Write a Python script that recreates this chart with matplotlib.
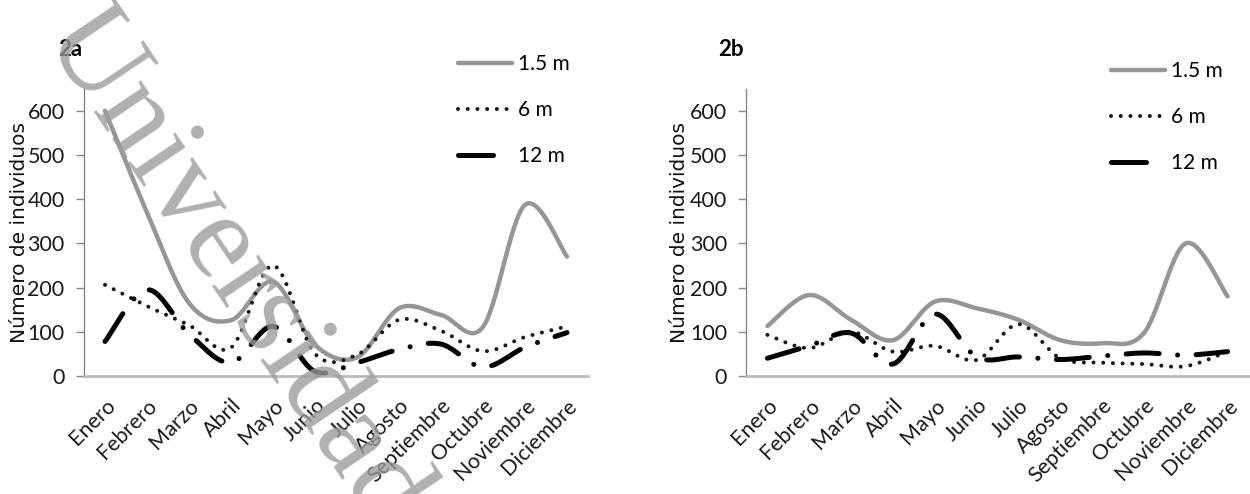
import numpy as np
import matplotlib
matplotlib.use("Agg")
import matplotlib.pyplot as plt
from matplotlib.lines import Line2D
from matplotlib import font_manager
import matplotlib.transforms as mtransforms

months = ["Enero", "Febrero", "Marzo", "Abril", "Mayo", "Junio", "Julio",
          "Agosto", "Septiembre", "Octubre", "Noviembre", "Diciembre"]

# Panel 2a
a_15 = [600, 370, 165, 126, 213, 70, 42, 153, 138, 111, 387, 270]
a_6 = [206, 158, 115, 64, 250, 50, 48, 127, 102, 56, 88, 112]
a_12 = [78, 195, 95, 30, 112, 10, 30, 60, 72, 20, 65, 98]

# Panel 2b
b_15 = [113, 183, 127, 81, 168, 153, 127, 81, 74, 97, 300, 180]
b_6 = [93, 63, 100, 55, 68, 36, 117, 40, 30, 27, 22, 55]
b_12 = [40, 68, 97, 27, 140, 43, 43, 37, 45, 52, 47, 55]

series_labels = ["1.5 m", "6 m", "12 m"]
yticks = [0, 100, 200, 300, 400, 500, 600]

_names = {f.name for f in font_manager.fontManager.ttflist}
NARROW = "Liberation Sans Narrow" if "Liberation Sans Narrow" in _names else "Lato"
SERIF = "Liberation Serif" if "Liberation Serif" in _names else "DejaVu Serif"
FS = 15.5
LFS = 15


def smooth(xs, ys, n=30):
    P = np.column_stack([np.asarray(xs, float), np.asarray(ys, float)])
    out = []
    for i in range(len(P) - 1):
        p0 = P[i - 1] if i > 0 else P[i]
        p1 = P[i]
        p2 = P[i + 1]
        p3 = P[i + 2] if i + 2 < len(P) else P[i + 1]
        c1 = p1 + (p2 - p0) / 6.0
        c2 = p2 - (p3 - p1) / 6.0
        t = np.linspace(0, 1, n, endpoint=(i == len(P) - 2))[:, None]
        seg = ((1 - t) ** 3) * p1 + 3 * ((1 - t) ** 2) * t * c1 + 3 * (1 - t) * t ** 2 * c2 + t ** 3 * p2
        out.append(seg)
    out = np.vstack(out)
    return out[:, 0], out[:, 1]


GRAY = "#969696"
styles = [
    dict(color=GRAY, lw=3.2, ls="-", solid_capstyle="round"),
    dict(color="#1a1a1a", lw=2.9, ls=(0, (0.01, 2.4)), dash_capstyle="round"),
    dict(color="#000000", lw=3.6, ls=(0, (6.6, 3.7, 0.01, 3.7)), dash_capstyle="round"),
]
legend_styles = [
    dict(color=GRAY, lw=3.2, ls="-", solid_capstyle="round"),
    dict(color="#1a1a1a", lw=2.9, ls=(0, (0.01, 2.4)), dash_capstyle="round"),
    dict(color="#000000", lw=3.6, ls=(0, (7.0, 20)), dash_capstyle="round"),
]

fig = plt.figure(figsize=(12.5, 4.94), dpi=100)

panels = [
    ("2a", [a_15, a_6, a_12], [0.0672, 0.239, 0.4032, 0.5816], (0.742, 1.12), -0.109, -0.052),
    ("2b", [b_15, b_6, b_12], [0.5972, 0.239, 0.4016, 0.5816], (0.726, 1.095), -0.115, -0.056),
]

for title, data, rect, legpos, ylab_x, title_x in panels:
    ax = fig.add_axes(rect)
    x = np.arange(len(months))
    for vals, st in zip(data, styles):
        sx, sy = smooth(x, vals)
        ax.plot(sx, sy, **st)
    ax.set_xlim(-0.5, len(months) - 0.5)
    ax.set_ylim(0, 650)
    ax.set_yticks(yticks)
    ax.set_yticklabels([str(v) for v in yticks], family=NARROW, fontsize=FS, color="#1a1a1a")
    ax.set_xticks(x)
    offset = mtransforms.ScaledTranslation(1 / 100, 0, fig.dpi_scale_trans)
    labels = ax.set_xticklabels(months, rotation=45, ha="right", va="top", rotation_mode="anchor",
                                family=NARROW, fontsize=FS, color="#1a1a1a")
    for lab in labels:
        lab.set_transform(lab.get_transform() + offset)
    ax.tick_params(axis="y", length=6, width=1, color="#888888", pad=8)
    ax.tick_params(axis="x", length=0, pad=14)
    for s in ["top", "right"]:
        ax.spines[s].set_visible(False)
    ax.spines["left"].set_color("#888888")
    ax.spines["left"].set_linewidth(1.0)
    ax.spines["bottom"].set_color("#bbbbbb")
    ax.spines["bottom"].set_linewidth(2.0)
    ax.set_ylabel("Número de individuos", fontsize=14.5, family="DejaVu Sans", color="#111111")
    ax.yaxis.set_label_coords(ylab_x, 0.5)
    ax.text(title_x, 1.135, title, transform=ax.transAxes, fontsize=16, fontweight="bold",
            family=NARROW, ha="left", va="center")
    handles = [Line2D([], [], **st) for st in legend_styles]
    ax.legend(handles, series_labels, loc="upper left", bbox_to_anchor=legpos,
              frameon=False, handlelength=2.6, handletextpad=0.3, labelspacing=1.25,
              borderaxespad=0, borderpad=0, prop=dict(family=NARROW, size=LFS))

# watermark
fig.text(0.186, 0.455, "Universidad", rotation=-56, fontsize=88, family=SERIF,
         color="#9c9c9c", ha="center", va="center", alpha=0.8, zorder=10)

fig.savefig("out.png", dpi=100)
